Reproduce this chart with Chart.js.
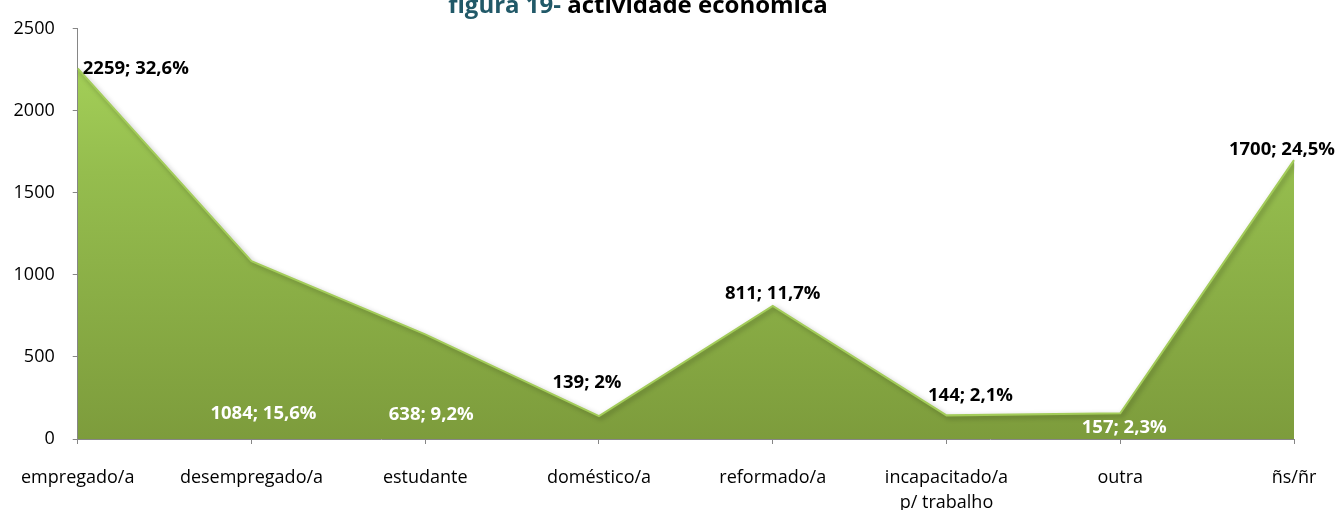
<!DOCTYPE html>
<html>
<head>
<meta charset="utf-8">
<script src="https://cdn.jsdelivr.net/npm/chart.js@4"></script>
<style>
  html, body { margin: 0; padding: 0; background: #fff; }
  #wrap { width: 1338px; height: 510px; }
</style>
</head>
<body>
<div id="wrap"><canvas id="chart" width="1338" height="510"></canvas></div>
<script>
// categories and values
const categories = ['empregado/a', 'desempregado/a', 'estudante', 'doméstico/a',
  'reformado/a', ['incapacitado/a', 'p/ trabalho'], 'outra', 'ñs/ñr'];
const counts = [2259, 1084, 638, 139, 811, 144, 157, 1700];
const percents = ['32,6', '15,6', '9,2', '2', '11,7', '2,1', '2,3', '24,5'];
const yTicks = [0, 500, 1000, 1500, 2000, 2500];

const FONT = "'Open Sans', sans-serif";

// where each data label sits relative to its point
const labelPlacement = [
  { dx: 5, dy: 0, align: 'left', color: '#000' },
  { dx: 12, bottom: 25, align: 'center', color: '#fff' },
  { dx: 6, bottom: 24, align: 'center', color: '#fff' },
  { dx: -12, dy: -33, align: 'center', color: '#000' },
  { dx: 0, dy: -12, align: 'center', color: '#000' },
  { dx: 24, dy: -20, align: 'center', color: '#000' },
  { dx: 4, dy: 14, align: 'center', color: '#fff' },
  { dx: -12, dy: -10, align: 'center', color: '#000' }
];

const labelsPlugin = {
  id: 'pointLabels',
  afterDatasetsDraw(chart) {
    const ctx = chart.ctx;
    const pts = chart.getDatasetMeta(0).data;
    const area = chart.chartArea;
    ctx.save();
    ctx.font = 'bold 18.5px ' + FONT;
    ctx.textBaseline = 'middle';
    pts.forEach((p, i) => {
      const pl = labelPlacement[i];
      const x = p.x + pl.dx;
      const y = pl.bottom !== undefined ? area.bottom - pl.bottom : p.y + pl.dy;
      ctx.textAlign = pl.align;
      ctx.fillStyle = pl.color;
      ctx.fillText(counts[i] + '; ' + percents[i] + '%', x, y);
    });
    ctx.restore();
  }
};

const titlePlugin = {
  id: 'mixedTitle',
  afterDraw(chart) {
    const ctx = chart.ctx;
    const a = 'figura 19- ';
    const b = 'actividade económica';
    ctx.save();
    ctx.font = 'bold 24px ' + FONT;
    ctx.textBaseline = 'alphabetic';
    ctx.textAlign = 'left';
    const wa = ctx.measureText(a).width;
    const wb = ctx.measureText(b).width;
    let x = 638 - (wa + wb) / 2;
    ctx.fillStyle = '#215968';
    ctx.fillText(a, x, 13);
    ctx.fillStyle = '#000';
    ctx.fillText(b, x + wa, 13);
    ctx.restore();
  }
};

const shadowPlugin = {
  id: 'areaShadow',
  beforeDatasetDraw(chart) {
    const ctx = chart.ctx;
    ctx.save();
    ctx.shadowColor = 'rgba(0,0,0,0.35)';
    ctx.shadowBlur = 5;
    ctx.shadowOffsetX = 2;
    ctx.shadowOffsetY = 2;
  },
  afterDatasetDraw(chart) {
    chart.ctx.restore();
  }
};

const ctx = document.getElementById('chart').getContext('2d');
new Chart(ctx, {
  type: 'line',
  data: {
    labels: categories,
    datasets: [{
      data: counts,
      fill: 'origin',
      tension: 0,
      pointRadius: 0,
      borderWidth: 2,
      borderColor: '#a3cc5a',
      backgroundColor(c) {
        const area = c.chart.chartArea;
        if (!area) return '#8cad48';
        const g = c.chart.ctx.createLinearGradient(0, area.top, 0, area.bottom);
        g.addColorStop(0, '#a8d55b');
        g.addColorStop(0.35, '#95bd4e');
        g.addColorStop(1, '#7d9c3c');
        return g;
      }
    }]
  },
  options: {
    responsive: false,
    animation: false,
    layout: { padding: { top: 22, right: 44, left: 0, bottom: 0 } },
    plugins: {
      legend: { display: false },
      tooltip: { enabled: false },
      title: { display: false }
    },
    scales: {
      x: {
        offset: false,
        grid: { display: true, drawOnChartArea: false, drawTicks: true, tickLength: 5, color: '#868686', offset: false },
        border: { color: '#868686', width: 1 },
        ticks: {
          color: '#000',
          padding: 21,
          maxRotation: 0,
          autoSkip: false,
          font: { family: FONT, size: 18, lineHeight: '25px' }
        },
        afterFit(scale) { scale.height = 71; }
      },
      y: {
        min: 0,
        max: 2500,
        afterBuildTicks(scale) { scale.ticks = yTicks.map(v => ({ value: v })); },
        grid: { display: true, drawOnChartArea: false, drawTicks: true, tickLength: 5, color: '#868686' },
        border: { color: '#868686', width: 1 },
        ticks: {
          color: '#000',
          padding: 18,
          font: { family: FONT, size: 18 },
          callback: v => String(v)
        },
        afterFit(scale) { scale.width = 76; }
      }
    }
  },
  plugins: [shadowPlugin, labelsPlugin, titlePlugin]
});
</script>
</body>
</html>
